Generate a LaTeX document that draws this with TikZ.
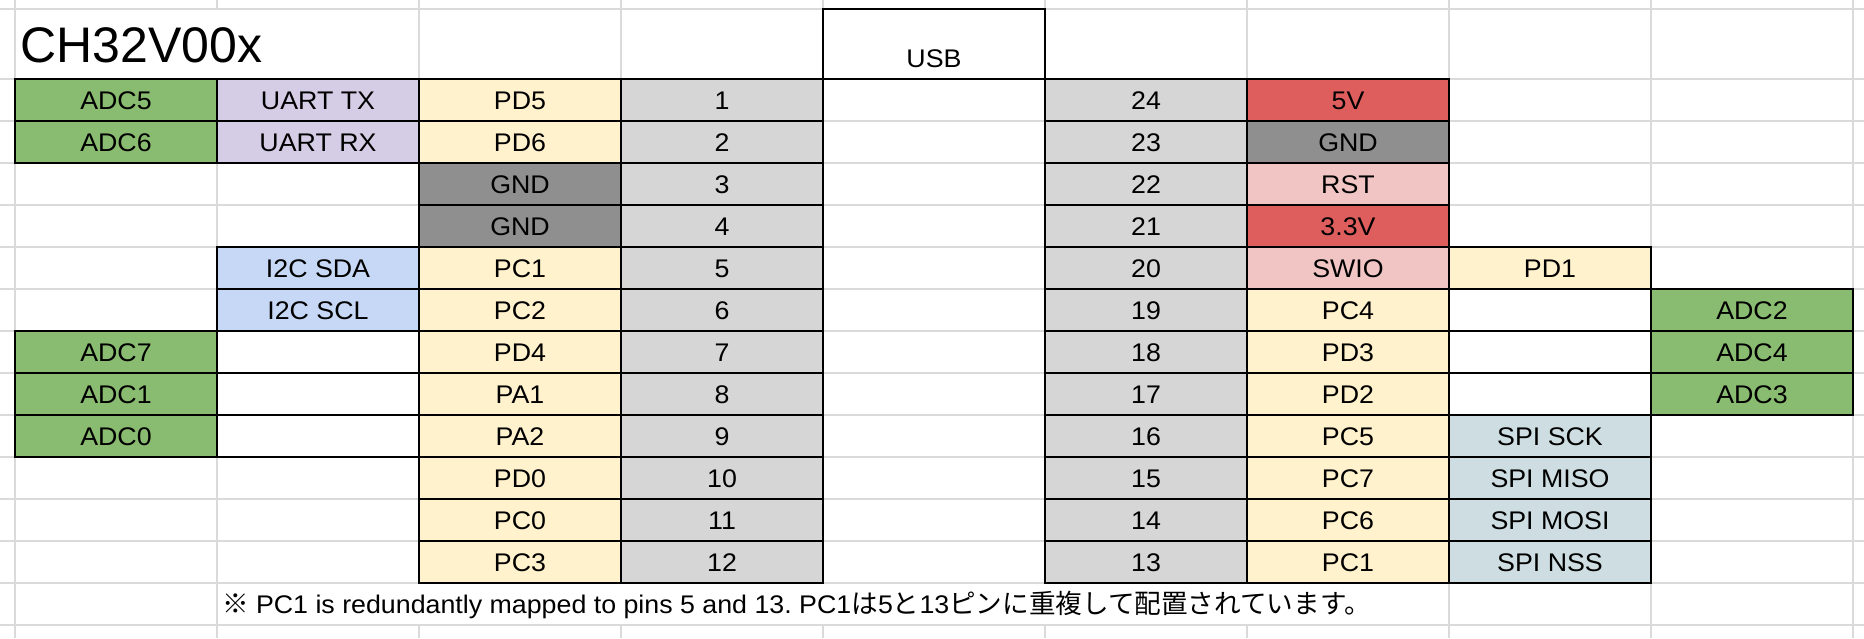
\documentclass[tikz,border=0pt]{standalone}
\usepackage{fontspec}
\setmainfont{Liberation Sans}
\newfontfamily\cellfont{Liberation Sans}[FakeStretch=1.05]
\newfontfamily\jpfontbase{Noto Sans CJK JP}
\newcommand\jpfont{\jpfontbase\fontsize{26.6}{30}\selectfont}
\definecolor{gridgray}{HTML}{DADADA}
\definecolor{adcgreen}{HTML}{89BC70}
\definecolor{uartpurple}{HTML}{D5CDE6}
\definecolor{pinyellow}{HTML}{FFF2CC}
\definecolor{numgray}{HTML}{D6D6D6}
\definecolor{gnddark}{HTML}{8F8F8F}
\definecolor{pwrred}{HTML}{DE5E5E}
\definecolor{rstpink}{HTML}{F2C5C5}
\definecolor{i2cblue}{HTML}{C6D8F5}
\definecolor{spicyan}{HTML}{CDDDE1}
\newcommand\pincell[5]{\node[cell,fill=#4] (#1) at (#2,#3) {#5};}
\begin{document}
\frenchspacing
\begin{tikzpicture}[x=1pt,y=-1pt,
  cell/.style={minimum width=202pt,minimum height=42pt,inner sep=0pt,outer sep=0pt,
    text height=18.3pt,text depth=0pt,font=\cellfont\fontsize{25.5}{30}\selectfont},
  gridline/.style={draw=gridgray,line width=1.1pt},
  border/.style={draw=black,line width=1.6pt},
  plaintext/.style={inner sep=0pt,outer sep=0pt,font=\cellfont\fontsize{25.5}{30}\selectfont}]
\useasboundingbox (0,0) rectangle (1864,638);
\fill[white] (0,0) rectangle (1864,638);
% grid
\foreach \y in {9,79,121,163,205,247,289,331,373,415,457,499,541,583,625}
  \draw[gridline] (0,\y) -- (1864,\y);
\foreach \x in {15,1449,1651,1853}
  \draw[gridline] (\x,0) -- (\x,638);
\draw[gridline] (217,0) -- (217,9);
\draw[gridline] (217,79) -- (217,638);
\foreach \x in {419,621,823,1045,1247}{
  \draw[gridline] (\x,0) -- (\x,583);
  \draw[gridline] (\x,625) -- (\x,638);
}
% title
\node[anchor=base west,inner sep=0pt,font=\fontsize{50}{60}\selectfont] (title) at (20.3,62.4) {CH32V00x};
% USB
\node[minimum width=222pt,minimum height=70pt,inner sep=0pt,outer sep=0pt,fill=white] (usb) at (934,44) {};
\node[plaintext,anchor=base] (usbtext) at (934,67.7) {USB};
% left side
\pincell{l1a}{116}{100}{adcgreen}{ADC5}
\pincell{l1b}{318}{100}{uartpurple}{UART TX}
\pincell{l1c}{520}{100}{pinyellow}{PD5}
\pincell{l1d}{722}{100}{numgray}{1}
\pincell{l2a}{116}{142}{adcgreen}{ADC6}
\pincell{l2b}{318}{142}{uartpurple}{UART RX}
\pincell{l2c}{520}{142}{pinyellow}{PD6}
\pincell{l2d}{722}{142}{numgray}{2}
\pincell{l3c}{520}{184}{gnddark}{GND}
\pincell{l3d}{722}{184}{numgray}{3}
\pincell{l4c}{520}{226}{gnddark}{GND}
\pincell{l4d}{722}{226}{numgray}{4}
\pincell{l5b}{318}{268}{i2cblue}{I2C SDA}
\pincell{l5c}{520}{268}{pinyellow}{PC1}
\pincell{l5d}{722}{268}{numgray}{5}
\pincell{l6b}{318}{310}{i2cblue}{I2C SCL}
\pincell{l6c}{520}{310}{pinyellow}{PC2}
\pincell{l6d}{722}{310}{numgray}{6}
\pincell{l7a}{116}{352}{adcgreen}{ADC7}
\pincell{l7b}{318}{352}{white}{}
\pincell{l7c}{520}{352}{pinyellow}{PD4}
\pincell{l7d}{722}{352}{numgray}{7}
\pincell{l8a}{116}{394}{adcgreen}{ADC1}
\pincell{l8b}{318}{394}{white}{}
\pincell{l8c}{520}{394}{pinyellow}{PA1}
\pincell{l8d}{722}{394}{numgray}{8}
\pincell{l9a}{116}{436}{adcgreen}{ADC0}
\pincell{l9b}{318}{436}{white}{}
\pincell{l9c}{520}{436}{pinyellow}{PA2}
\pincell{l9d}{722}{436}{numgray}{9}
\pincell{l10c}{520}{478}{pinyellow}{PD0}
\pincell{l10d}{722}{478}{numgray}{10}
\pincell{l11c}{520}{520}{pinyellow}{PC0}
\pincell{l11d}{722}{520}{numgray}{11}
\pincell{l12c}{520}{562}{pinyellow}{PC3}
\pincell{l12d}{722}{562}{numgray}{12}
% right side
\pincell{r1f}{1146}{100}{numgray}{24}
\pincell{r1g}{1348}{100}{pwrred}{5V}
\pincell{r2f}{1146}{142}{numgray}{23}
\pincell{r2g}{1348}{142}{gnddark}{GND}
\pincell{r3f}{1146}{184}{numgray}{22}
\pincell{r3g}{1348}{184}{rstpink}{RST}
\pincell{r4f}{1146}{226}{numgray}{21}
\pincell{r4g}{1348}{226}{pwrred}{3.3V}
\pincell{r5f}{1146}{268}{numgray}{20}
\pincell{r5g}{1348}{268}{rstpink}{SWIO}
\pincell{r5h}{1550}{268}{pinyellow}{PD1}
\pincell{r6f}{1146}{310}{numgray}{19}
\pincell{r6g}{1348}{310}{pinyellow}{PC4}
\pincell{r6h}{1550}{310}{white}{}
\pincell{r6i}{1752}{310}{adcgreen}{ADC2}
\pincell{r7f}{1146}{352}{numgray}{18}
\pincell{r7g}{1348}{352}{pinyellow}{PD3}
\pincell{r7h}{1550}{352}{white}{}
\pincell{r7i}{1752}{352}{adcgreen}{ADC4}
\pincell{r8f}{1146}{394}{numgray}{17}
\pincell{r8g}{1348}{394}{pinyellow}{PD2}
\pincell{r8h}{1550}{394}{white}{}
\pincell{r8i}{1752}{394}{adcgreen}{ADC3}
\pincell{r9f}{1146}{436}{numgray}{16}
\pincell{r9g}{1348}{436}{pinyellow}{PC5}
\pincell{r9h}{1550}{436}{spicyan}{SPI SCK}
\pincell{r10f}{1146}{478}{numgray}{15}
\pincell{r10g}{1348}{478}{pinyellow}{PC7}
\pincell{r10h}{1550}{478}{spicyan}{SPI MISO}
\pincell{r11f}{1146}{520}{numgray}{14}
\pincell{r11g}{1348}{520}{pinyellow}{PC6}
\pincell{r11h}{1550}{520}{spicyan}{SPI MOSI}
\pincell{r12f}{1146}{562}{numgray}{13}
\pincell{r12g}{1348}{562}{pinyellow}{PC1}
\pincell{r12h}{1550}{562}{spicyan}{SPI NSS}
% borders
\foreach \n in {usb,l1a,l1b,l1c,l1d,l2a,l2b,l2c,l2d,l3c,l3d,l4c,l4d,l5b,l5c,l5d,l6b,l6c,l6d,
  l7a,l7b,l7c,l7d,l8a,l8b,l8c,l8d,l9a,l9b,l9c,l9d,l10c,l10d,l11c,l11d,l12c,l12d,
  r1f,r1g,r2f,r2g,r3f,r3g,r4f,r4g,r5f,r5g,r5h,r6f,r6g,r6h,r6i,r7f,r7g,r7h,r7i,
  r8f,r8g,r8h,r8i,r9f,r9g,r9h,r10f,r10g,r10h,r11f,r11g,r11h,r12f,r12g,r12h}
  \draw[border] (\n.north west) rectangle (\n.south east);
% footnote
\node[plaintext,anchor=base west] (note) at (222,613.7)
  {{\jpfont ※} PC1 is redundantly mapped to pins 5 and 13. PC1{\jpfont は}5{\jpfont と}13{\jpfont ピンに重複して配置されています。}};
\end{tikzpicture}
\end{document}
